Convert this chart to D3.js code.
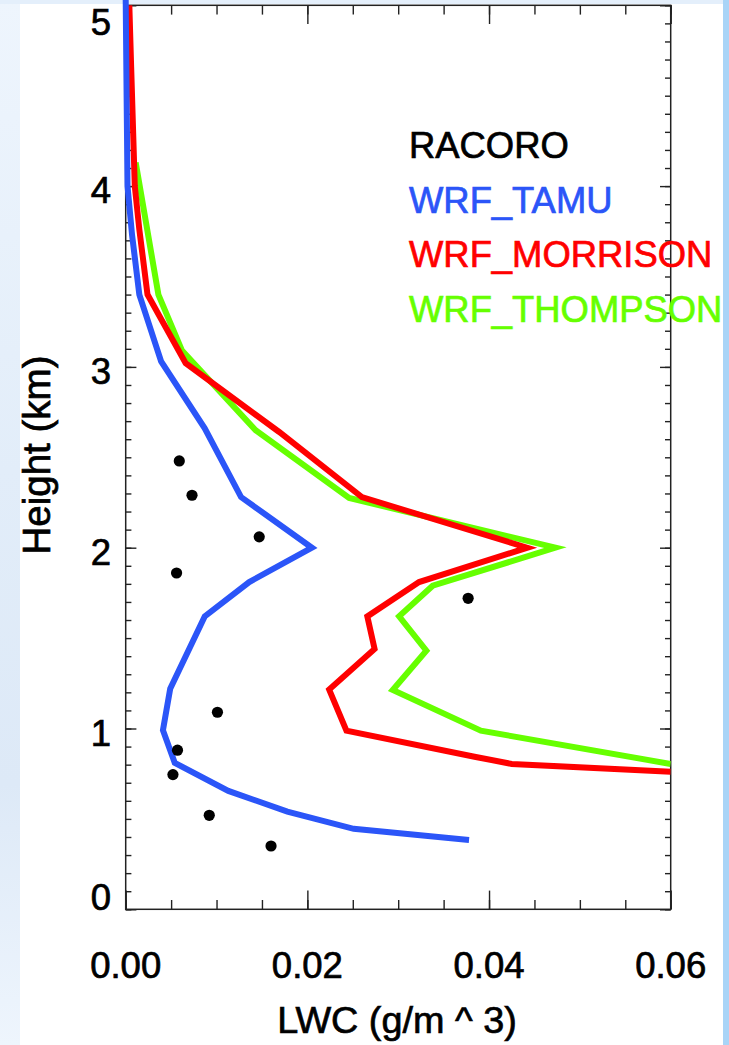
<!DOCTYPE html>
<html>
<head>
<meta charset="utf-8">
<script src="https://cdn.jsdelivr.net/npm/d3@7"></script>
<style>
  html, body { margin: 0; padding: 0; background: #ffffff; }
  svg { display: block; }
</style>
</head>
<body>
<div id="chart"></div>
<script>
// ---------------- DATA ----------------
const racoroLWC    = [0.0059, 0.0073, 0.0147, 0.0056, 0.0377, 0.0101, 0.0057, 0.0052, 0.0092, 0.0160];
const racoroHeight = [2.48,   2.29,   2.06,   1.86,   1.72,   1.09,   0.88,   0.745,  0.52,   0.35];

const tamuHeight = [5.03, 4.5, 4.0, 3.73, 3.4, 3.03, 2.66, 2.28, 2.0, 1.81, 1.62, 1.22, 0.99, 0.81, 0.655, 0.54, 0.445, 0.383];
const tamuLWC    = [0.0000, 0.0001, 0.0002, 0.0007, 0.0015, 0.0039, 0.0087, 0.0127, 0.0205, 0.0136, 0.0087, 0.0049, 0.0041, 0.0054, 0.0113, 0.0178, 0.0251, 0.0378];

const morrisonHeight = [5.0, 4.66, 4.0, 3.76, 3.4, 3.02, 2.64, 2.28, 2.0, 1.81, 1.62, 1.44, 1.215, 0.988, 0.844, 0.804, 0.761];
const morrisonLWC    = [0.0004, 0.0006, 0.0010, 0.0015, 0.0024, 0.0066, 0.0169, 0.0260, 0.0442, 0.0323, 0.0266, 0.0274, 0.0224, 0.0243, 0.0384, 0.0425, 0.0600];

const thompsonHeight = [4.13, 3.4, 3.09, 2.65, 2.275, 2.0, 1.79, 1.62, 1.43, 1.213, 0.988, 0.804];
const thompsonLWC    = [0.0011, 0.0036, 0.0062, 0.0143, 0.0246, 0.0473, 0.0338, 0.0301, 0.0331, 0.0294, 0.0391, 0.0600];

const seriesNames = ["RACORO", "WRF_TAMU", "WRF_MORRISON", "WRF_THOMPSON"];
const xTickValues = [0, 0.02, 0.04, 0.06];
const xTickLabels = ["0.00", "0.02", "0.04", "0.06"];
const yTickValues = [0, 1, 2, 3, 4, 5];
const yTickLabels = ["0", "1", "2", "3", "4", "5"];
const xTitle = "LWC (g/m ^ 3)";
const yTitle = "Height (km)";

// ---------------- LAYOUT ----------------
const W = 729, H = 1045;
const L = 125.7, R = 670.7, T = 5.3, B = 909.3;
const FONT = "'Liberation Sans', Arial, Helvetica, sans-serif";
const colors = { RACORO: "#000000", WRF_TAMU: "#2b55f8", WRF_MORRISON: "#ff0000", WRF_THOMPSON: "#66ff00" };

const svg = d3.select("#chart").append("svg").attr("width", W).attr("height", H);
const defs = svg.append("defs");

// background frame
const lg = defs.append("linearGradient").attr("id", "leftGrad").attr("x1", 0).attr("y1", 0).attr("x2", 0).attr("y2", 1);
lg.append("stop").attr("offset", "0%").attr("stop-color", "#eef5fd");
lg.append("stop").attr("offset", "45%").attr("stop-color", "#e2edf9");
lg.append("stop").attr("offset", "75%").attr("stop-color", "#dde9f7");
lg.append("stop").attr("offset", "100%").attr("stop-color", "#eef5fd");
svg.append("rect").attr("x", 0).attr("y", 0).attr("width", W).attr("height", H).attr("fill", "url(#leftGrad)");
svg.append("rect").attr("x", 0).attr("y", 0).attr("width", W).attr("height", 4).attr("fill", "#e4effb");
svg.append("rect").attr("x", 20).attr("y", 4).attr("width", 703).attr("height", H - 4).attr("fill", "#ffffff");

const x = d3.scaleLinear().domain([0, 0.06]).range([L, R]);
const y = d3.scaleLinear().domain([0, 5]).range([B, T]);

defs.append("clipPath").attr("id", "plotClip")
  .append("rect").attr("x", 0).attr("y", 0).attr("width", R).attr("height", B);

// ---------------- AXES ----------------
const axisColor = "#222";
function styleAxis(g) {
  g.select(".domain").remove();
  g.selectAll(".tick line").attr("stroke", axisColor).attr("stroke-width", 1.4);
  g.selectAll(".tick text").remove();
}
const xMinor = d3.range(0, 0.06001, 0.005);
const yMinor = d3.range(0, 5.0001, 0.1);

svg.append("g").attr("transform", `translate(0,${B})`)
  .call(d3.axisBottom(x).tickValues(xMinor).tickSize(-9.3).tickFormat("")).call(styleAxis);
svg.append("g").attr("transform", `translate(0,${B})`)
  .call(d3.axisBottom(x).tickValues(xTickValues).tickSize(-18.7).tickFormat("")).call(styleAxis);
svg.append("g").attr("transform", `translate(0,${T})`)
  .call(d3.axisTop(x).tickValues(xMinor).tickSize(-9.3).tickFormat("")).call(styleAxis);
svg.append("g").attr("transform", `translate(0,${T})`)
  .call(d3.axisTop(x).tickValues(xTickValues).tickSize(-18.7).tickFormat("")).call(styleAxis);

svg.append("g").attr("transform", `translate(${L},0)`)
  .call(d3.axisLeft(y).tickValues(yMinor).tickSize(-5.7).tickFormat("")).call(styleAxis);
svg.append("g").attr("transform", `translate(${L},0)`)
  .call(d3.axisLeft(y).tickValues(yTickValues).tickSize(-10.7).tickFormat("")).call(styleAxis);
svg.append("g").attr("transform", `translate(${R},0)`)
  .call(d3.axisRight(y).tickValues(yMinor).tickSize(-5.7).tickFormat("")).call(styleAxis);
svg.append("g").attr("transform", `translate(${R},0)`)
  .call(d3.axisRight(y).tickValues(yTickValues).tickSize(-10.7).tickFormat("")).call(styleAxis);

svg.append("rect").attr("x", L).attr("y", T).attr("width", R - L).attr("height", B - T)
  .attr("fill", "none").attr("stroke", axisColor).attr("stroke-width", 1.5);

// text helper
function txt(sel, size, color) {
  return sel.attr("font-family", FONT).attr("font-size", size)
    .attr("fill", color).attr("stroke", color).attr("stroke-width", 0.7);
}

// tick labels
txt(svg.append("g").selectAll("text").data(xTickValues).join("text")
  .attr("x", d => x(d)).attr("y", 978)
  .attr("text-anchor", "middle"), 36.5, "#000")
  .text((d, i) => xTickLabels[i]);

txt(svg.append("g").selectAll("text").data(yTickValues).join("text")
  .attr("x", 111).attr("y", d => Math.min(Math.max(y(d) + 17, 35), 910))
  .attr("text-anchor", "end"), 36.5, "#000")
  .text((d, i) => yTickLabels[i]);

// axis titles
txt(svg.append("text").attr("x", 397).attr("y", 1033)
  .attr("text-anchor", "middle"), 37.8, "#000")
  .text(xTitle);
txt(svg.append("text").attr("transform", `translate(50,455) rotate(-90)`)
  .attr("text-anchor", "middle"), 38.5, "#000")
  .text(yTitle);

// ---------------- SERIES ----------------
const line = d3.line().x(d => x(d[0])).y(d => y(d[1]));
const plot = svg.append("g").attr("clip-path", "url(#plotClip)");

const lineSeries = [
  { name: "WRF_THOMPSON", lwc: thompsonLWC, h: thompsonHeight },
  { name: "WRF_MORRISON", lwc: morrisonLWC, h: morrisonHeight },
  { name: "WRF_TAMU",     lwc: tamuLWC,     h: tamuHeight }
];
lineSeries.forEach(s => {
  plot.append("path")
    .datum(s.lwc.map((v, i) => [v, s.h[i]]))
    .attr("d", line)
    .attr("fill", "none")
    .attr("stroke", colors[s.name])
    .attr("stroke-width", 6)
    .attr("stroke-linejoin", "miter")
    .attr("stroke-miterlimit", 10)
    .attr("stroke-linecap", "butt");
});

plot.append("g").selectAll("circle")
  .data(racoroLWC.map((v, i) => [v, racoroHeight[i]]))
  .join("circle")
  .attr("cx", d => x(d[0])).attr("cy", d => y(d[1])).attr("r", 5.6)
  .attr("fill", colors.RACORO);

// ---------------- LEGEND ----------------
svg.append("g").selectAll("text").data(seriesNames).join("text")
  .attr("x", 409).attr("y", (d, i) => 158 + i * 54.5)
  .attr("font-family", FONT).attr("font-size", 36.4)
  .attr("fill", d => colors[d]).attr("stroke", d => colors[d]).attr("stroke-width", 0.7)
  .text(d => d);

// right frame strip
svg.append("rect").attr("x", 723).attr("y", 0).attr("width", W - 723).attr("height", H).attr("fill", "#a9d4f7");
</script>
</body>
</html>
